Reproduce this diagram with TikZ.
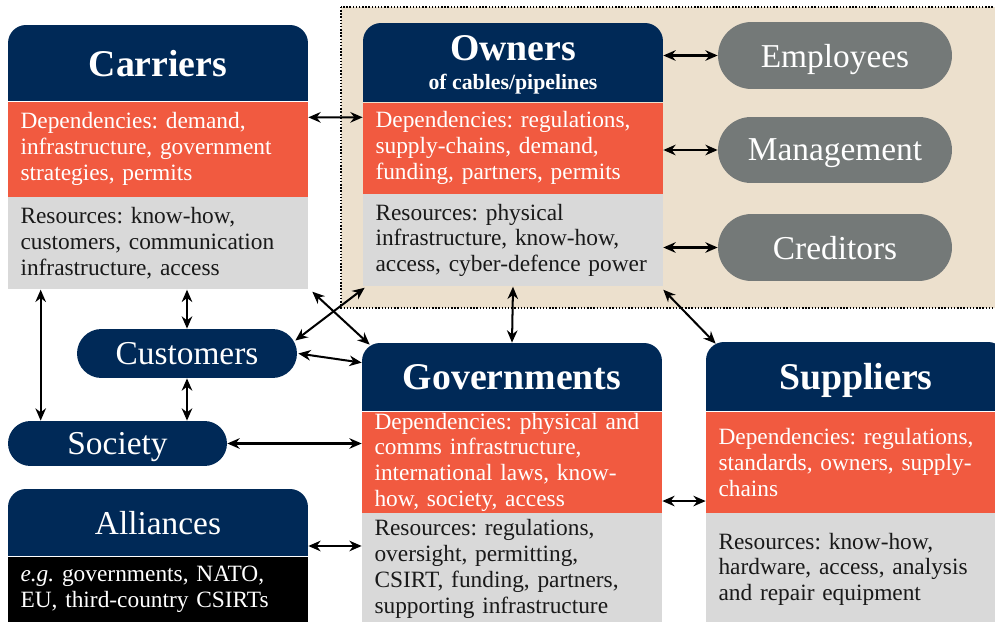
\documentclass[tikz,border=0pt]{standalone}
\usepackage{fontspec}
\setmainfont{Liberation Serif}
\frenchspacing
\usetikzlibrary{positioning,shapes.misc,arrows.meta,backgrounds}
\definecolor{hdblue}{RGB}{0,41,87}
\definecolor{depred}{RGB}{241,90,64}
\definecolor{resgray}{RGB}{217,217,217}
\definecolor{grpbeige}{RGB}{236,224,205}
\definecolor{pillgray}{RGB}{116,121,120}
\tikzset{
  head/.style={fill=hdblue, text=white, rounded corners=0.36cm, minimum width=6cm,
    inner sep=0pt, align=center, text depth=0pt,
    font=\fontsize{21.5}{25}\selectfont\bfseries},
  band/.style={minimum width=6cm, text width=5.5cm, inner xsep=0.25cm, inner ysep=0pt,
    align=left, font=\fontsize{13.3}{14.7}\selectfont},
  dep/.style={band, fill=depred, text=white},
  res/.style={band, fill=resgray, text=black!90},
  pill/.style={rounded rectangle, inner sep=0pt, text depth=0pt, text=white,
    font=\fontsize{19}{22}\selectfont},
}
\begin{document}
\begin{tikzpicture}[x=0.02cm, y=-0.02cm]
  \useasboundingbox (0,0) rectangle (995,622);

  \node[head, minimum height=1.52cm] (carriers) at (158,63) {Carriers};
  \node[dep, below=0pt of carriers, minimum height=1.9cm] (carriers-dep)
    {Dependencies: demand,\\ infrastructure, government\\ strategies, permits};
  \node[res, below=0pt of carriers-dep, minimum height=1.84cm] (carriers-res)
    {Resources: know-how,\\ customers, communication\\ infrastructure, access};

  \node[head, minimum height=1.58cm] (owners) at (513,62.5)
    {Owners\\[-9pt]\fontsize{12.4}{14}\selectfont of cables/pipelines};
  \node[dep, below=0pt of owners, minimum height=1.82cm] (owners-dep)
    {Dependencies: regulations,\\ supply-chains, demand,\\ funding, partners, permits};
  \node[res, below=0pt of owners-dep, minimum height=1.84cm] (owners-res)
    {Resources: physical\\ infrastructure, know-how,\\ access, cyber-defence power};

  \node[head, minimum height=1.36cm] (govs) at (512,377) {Governments};
  \node[dep, below=0pt of govs, minimum height=2.02cm] (govs-dep)
    {Dependencies: physical and\\ comms infrastructure,\\ international laws, know-\\ how, society, access};
  \node[res, below=0pt of govs-dep, minimum height=2.22cm] (govs-res)
    {Resources: regulations,\\ oversight, permitting,\\ CSIRT, funding, partners,\\ supporting infrastructure};

  \node[head, minimum height=1.38cm] (suppliers) at (856,376.5) {Suppliers};
  \node[dep, below=0pt of suppliers, minimum height=2.02cm] (suppliers-dep)
    {Dependencies: regulations,\\ standards, owners, supply-\\ chains};
  \node[res, below=0pt of suppliers-dep, minimum height=2.24cm] (suppliers-res)
    {Resources: know-how,\\ hardware, access, analysis\\ and repair equipment};

  \node[head, minimum height=1.34cm, font=\fontsize{19}{22}\selectfont] (alliances) at (158,522.5) {Alliances};
  \node[band, fill=black, text=white, below=0pt of alliances, minimum height=1.32cm] (alliances-ex)
    {\textit{e.g.} governments, NATO,\\ EU, third-country CSIRTs};

  \node[pill, fill=pillgray, minimum width=4.68cm, minimum height=1.34cm] (employees) at (835,55.5) {Employees};
  \node[pill, fill=pillgray, minimum width=4.68cm, minimum height=1.32cm] (management) at (835,150) {Management};
  \node[pill, fill=pillgray, minimum width=4.68cm, minimum height=1.34cm] (creditors) at (835,247.5) {Creditors};
  \node[pill, fill=hdblue, minimum width=4.4cm, minimum height=0.98cm] (customers) at (187,353.5) {Customers};
  \node[pill, fill=hdblue, minimum width=4.38cm, minimum height=0.9cm] (society) at (117.5,443.5) {Society};

  \begin{scope}[on background layer]
    \draw[fill=grpbeige, densely dotted, line width=0.8pt] (341,7) rectangle (1000,308);
    \foreach \h in {carriers,owners,govs,suppliers,alliances}
      \fill[hdblue] (\h.west) rectangle (\h.south east);
  \end{scope}

  \begin{scope}[<->, >={Stealth[length=7pt,width=6pt]}, line width=1.15pt]
    \draw ([yshift=-0.32cm]carriers-dep.north east) -- ([yshift=-0.3cm]owners-dep.north west);
    \draw (owners.east |- employees.west) -- (employees);
    \draw (owners-dep.east |- management.west) -- (management);
    \draw (owners-res.east |- creditors.west) -- (creditors);
    \draw ([xshift=0.66cm]carriers-res.south west) coordinate (cs) -- (cs |- society.north);
    \draw (customers.north |- carriers-res.south) -- (customers.north);
    \draw (customers.south) -- (customers.south |- society.north);
    \draw ([xshift=0.08cm,yshift=-0.04cm]carriers-res.south east) -- ([xshift=0.16cm,yshift=-0.04cm]govs.north west);
    \draw ([xshift=0.04cm,yshift=-0.02cm]owners-res.south west) -- ([xshift=-0.04cm,yshift=0.26cm]customers.east);
    \draw ([xshift=0.02cm]customers.east) -- ([yshift=-0.4cm]govs.north west);
    \draw (owners-res.south) -- (govs.north);
    \draw ([yshift=-0.06cm]owners-res.south east) -- ([xshift=0.2cm,yshift=-0.04cm]suppliers.north west);
    \draw (society.east) -- (society.east -| govs-dep.west);
    \draw ([yshift=-0.47cm]alliances.east) coordinate (al) -- (al -| govs-res.west);
    \draw ([yshift=0.24cm]govs-dep.south east) -- ([yshift=0.24cm]suppliers-dep.south west);
  \end{scope}
\end{tikzpicture}
\end{document}
